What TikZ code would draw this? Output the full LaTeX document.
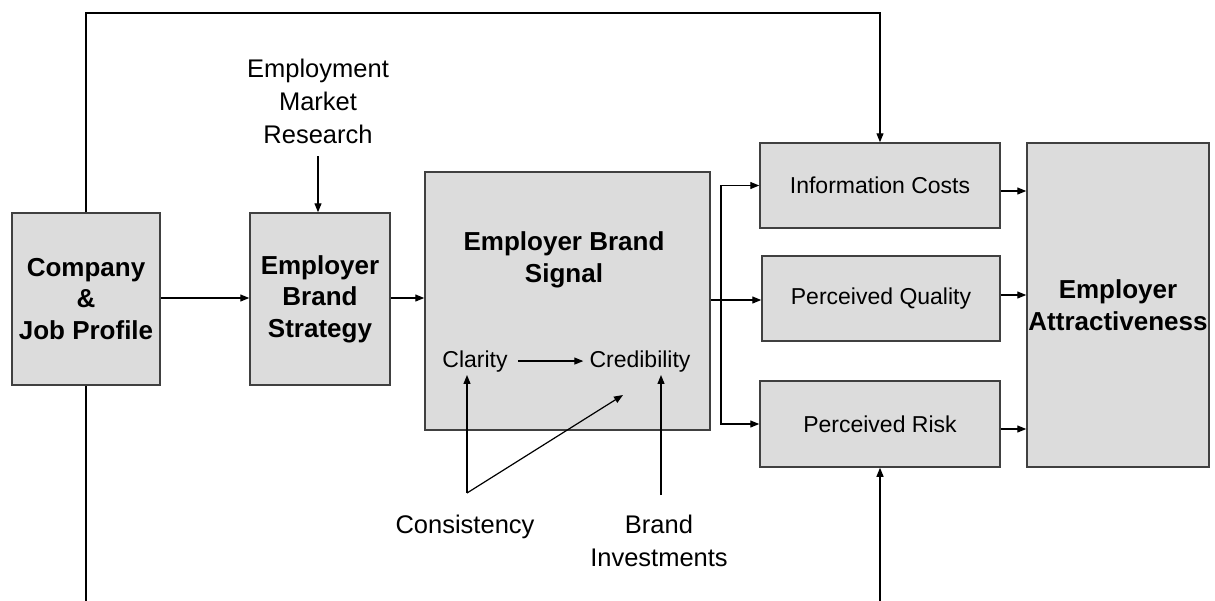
\documentclass[tikz,border=0pt]{standalone}
\usepackage{fontspec}
\setmainfont{Liberation Sans}
\usetikzlibrary{arrows.meta}
\definecolor{boxfill}{RGB}{220,220,220}
\definecolor{boxline}{RGB}{64,64,64}
\begin{document}
\begin{tikzpicture}[x=1pt,y=-1pt,
  box/.style={draw=boxline, line width=1.5pt, fill=boxfill, inner sep=0pt, align=center},
  conn/.style={line width=1.2pt, draw=black},
  arr/.style={conn, -{Triangle[length=9pt,width=7pt]}},
  boldtxt/.style={font=\bfseries\fontsize{26}{31.5}\selectfont},
  intxt/.style={font=\fontsize{23}{28}\selectfont},
  outtxt/.style={font=\fontsize{25.5}{33}\selectfont, align=center, inner sep=0pt}]
\useasboundingbox (0,0) rectangle (1215,600);
\fill[white] (0,0) rectangle (1215,600);

% boxes
\node[box, boldtxt, minimum width=148pt, minimum height=172pt] (comp) at (86,299) {Company\\\&\\Job Profile};
\node[box, boldtxt, minimum width=140pt, minimum height=172pt] (strat) at (320,299) {Employer\\Brand\\Strategy};
\node[box, minimum width=285pt, minimum height=258pt] (signal) at (567.5,301) {};
\node[boldtxt, align=center, inner sep=0pt] (sigtxt) at (564,260) {Employer Brand\\Signal};
\node[intxt, inner sep=0pt, anchor=base] (cla) at (475,367) {Clarity};
\node[intxt, inner sep=0pt, anchor=base] (cred) at (640,367) {Credibility};

\node[box, intxt, minimum width=240pt, minimum height=85pt] (ic) at (880,185.5) {Information Costs};
\node[box, intxt, minimum width=238pt, minimum height=85pt] (pq) at (881,298.5) {Perceived Quality};
\node[box, intxt, minimum width=240pt, minimum height=86pt] (pr) at (880,424) {Perceived Risk};
\node[box, boldtxt, minimum width=182pt, minimum height=324pt] (ea) at (1118,305) {Employer\\Attractiveness};

% outside labels
\node[outtxt] (emr) at (318,101.5) {Employment\\Market\\Research};
\node[outtxt, anchor=base] (cons) at (465,533) {Consistency};
\node[outtxt] (binv) at (659,540.5) {Brand\\Investments};

% coordinates
\coordinate (loopTL) at (86,13);
\coordinate (botL) at (86,601);
\coordinate (botR) at (879,601);
\coordinate (emrArr) at (318,156);
\coordinate (consTop) at (467,493);
\coordinate (binvTop) at (661,495);
\coordinate (credIn) at (623,395);
\coordinate (br) at (721,300);
\coordinate (rowA) at (0,298);

% connectors
\draw[arr] (comp.north) -- (comp.north |- loopTL) -| (ic.north);
\draw[conn] (comp.south) -- (comp.south |- botL);
\draw[arr] (pr.south |- botR) -- (pr.south);
\draw[arr] (emrArr) -- (emrArr |- strat.north);
\draw[arr] (comp.east |- rowA) -- (strat.west |- rowA);
\draw[arr] (strat.east |- rowA) -- (signal.west |- rowA);
\draw[conn] (signal.east |- br) -- (br);
\draw[arr] (br) -- (pq.west |- br);
\draw[arr] (br) |- (ic.west);
\draw[arr] (br) |- (pr.west);
\draw[arr] ([yshift=-5.5pt]ic.east) -- ([yshift=-5.5pt]ic.east -| ea.west);
\draw[arr] ([yshift=3.5pt]pq.east) -- ([yshift=3.5pt]pq.east -| ea.west);
\draw[arr] ([yshift=-5pt]pr.east) -- ([yshift=-5pt]pr.east -| ea.west);
\draw[arr] ([xshift=10pt]cla.east) -- ([xshift=-6pt]cred.west);
\draw[arr] (consTop) -- ([yshift=-3pt]consTop |- cla.south);
\draw[arr] (consTop) -- (credIn);
\draw[arr] (binvTop) -- ([yshift=-3pt]binvTop |- cred.south);
\end{tikzpicture}
\end{document}
